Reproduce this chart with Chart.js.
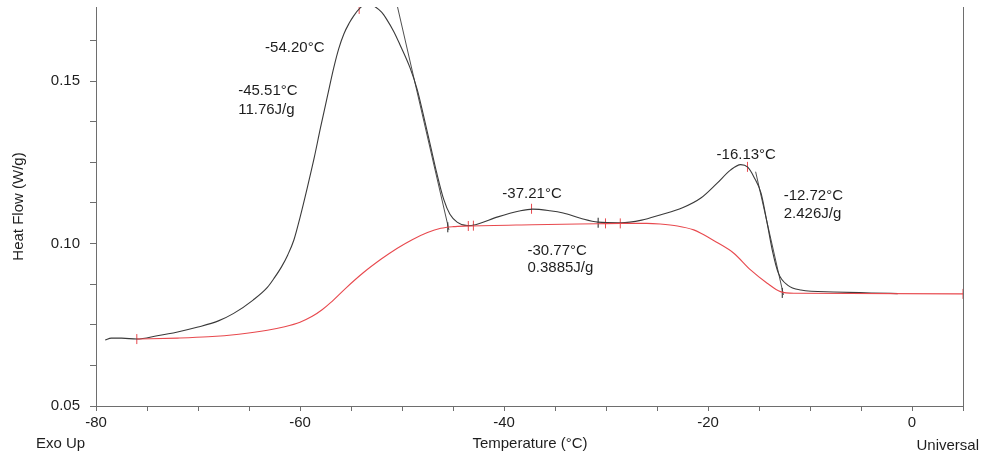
<!DOCTYPE html>
<html>
<head>
<meta charset="utf-8">
<script src="https://cdn.jsdelivr.net/npm/chart.js@4.4.0/dist/chart.umd.min.js"></script>
<style>
  html, body { margin: 0; padding: 0; background: #fff; }
  #wrap { width: 982px; height: 461px; }
</style>
</head>
<body>
<div id="wrap"><canvas id="dsc" width="982" height="461"></canvas></div>
<script>
// sample curve (temperature °C / heat flow W/g)
const sampleT = [-79.1, -78.5, -77.5, -76.0, -74.0, -72.0, -70.0, -68.0, -66.5, -64.6, -63.2, -62.5, -61.8, -61.2, -60.6, -60.0, -59.3, -58.6, -58.0, -57.3, -56.7, -56.2, -55.7, -55.2, -54.75, -54.1, -53.4, -52.8, -52.0, -51.5, -50.8, -50.2, -49.2, -48.5, -47.9, -47.2, -46.6, -45.9, -45.3, -44.6, -43.6, -42.8, -40.6, -38.5, -37.2, -35.5, -34.2, -32.5, -30.8, -28.6, -26.5, -24.7, -22.5, -20.7, -19.1, -17.8, -16.8, -16.1, -15.5, -14.8, -14.2, -13.7, -13.1, -12.2, -10.9, -7.7, -4.0, -1.4];
const sampleHF = [0.0703, 0.0709, 0.0709, 0.0706, 0.0716, 0.0728, 0.0743, 0.0762, 0.0785, 0.0826, 0.0865, 0.0895, 0.0929, 0.0965, 0.1011, 0.1080, 0.1170, 0.1265, 0.1355, 0.1455, 0.1540, 0.1600, 0.1645, 0.1677, 0.1700, 0.1725, 0.1740, 0.1732, 0.1712, 0.1690, 0.1652, 0.1612, 0.1540, 0.1473, 0.1395, 0.1300, 0.1218, 0.1135, 0.1090, 0.1066, 0.1055, 0.1058, 0.1082, 0.1100, 0.1106, 0.1101, 0.1094, 0.1078, 0.1066, 0.1064, 0.1072, 0.1088, 0.1110, 0.1140, 0.1186, 0.1226, 0.1243, 0.1235, 0.1205, 0.1155, 0.1063, 0.0980, 0.0909, 0.0872, 0.0857, 0.0851, 0.0848, 0.0846];

// integration baseline (red)
const baseT = [-76.0, -72.0, -69.0, -66.0, -63.2, -61.5, -60.0, -58.8, -57.8, -57.0, -55.5, -53.8, -52.0, -50.5, -49.0, -47.5, -46.2, -45.0, -43.6, -37.2, -30.8, -28.6, -26.0, -24.7, -23.0, -21.4, -20.7, -19.2, -17.5, -15.8, -14.2, -12.9, -11.5, 5.0];
const baseHF = [0.0706, 0.0709, 0.0713, 0.0721, 0.0733, 0.0744, 0.0758, 0.0776, 0.0797, 0.0818, 0.0863, 0.0910, 0.0953, 0.0985, 0.1012, 0.1034, 0.1047, 0.1052, 0.1054, 0.1058, 0.1061, 0.1062, 0.1062, 0.1060, 0.1054, 0.1042, 0.1032, 0.1005, 0.0971, 0.0918, 0.0878, 0.0852, 0.0847, 0.0845];

// onset tangents
const tangent1T = [-50.6, -45.4];
const tangent1HF = [0.1750, 0.1042];
const tangent2T = [-15.33, -12.6];
const tangent2HF = [0.1221, 0.0842];

// analysis markers
const redMarkT = [-76.0, -54.2, -43.5, -43.0, -37.3, -30.05, -28.6, -16.13, 5.0];
const redMarkHF = [0.0706, 0.1722, 0.1054, 0.1055, 0.1107, 0.1062, 0.1062, 0.1236, 0.0845];
const blackMarkT = [-45.51, -30.77, -12.72];
const blackMarkHF = [0.1050, 0.1064, 0.0848];

// result labels
const labelText = ["-54.20°C", "-45.51°C", "11.76J/g", "-37.21°C", "-30.77°C", "0.3885J/g", "-16.13°C", "-12.72°C", "2.426J/g"];
const labelT = [-63.42, -66.06, -66.06, -40.16, -37.70, -37.70, -19.16, -12.58, -12.58];
const labelHF = [0.1602, 0.1469, 0.1411, 0.1152, 0.0977, 0.0925, 0.1272, 0.1146, 0.1091];

// axes
const xTickValues = [-80, -75, -70, -65, -60, -55, -50, -45, -40, -35, -30, -25, -20, -15, -10, -5, 0, 5];
const yTickValues = [0.05, 0.0625, 0.075, 0.0875, 0.10, 0.1125, 0.125, 0.1375, 0.15, 0.1625];

const FONT = "'Liberation Sans', Arial, sans-serif";
const AXIS = '#6e6e6e';
const INK = '#1e1e1e';

function pts(xs, ys) {
    return xs.map((x, i) => ({ x: x, y: ys[i] }));
}

// right frame, axis titles and the result labels
const decorPlugin = {
    id: 'decor',
    afterDraw(chart) {
        const ctx = chart.ctx;
        const a = chart.chartArea;
        const xs = chart.scales.x, ys = chart.scales.y;
        ctx.save();
        ctx.strokeStyle = AXIS;
        ctx.lineWidth = 1;
        ctx.beginPath();
        ctx.moveTo(Math.round(a.right) + 0.5, a.top);
        ctx.lineTo(Math.round(a.right) + 0.5, a.bottom);
        ctx.stroke();

        ctx.fillStyle = INK;
        ctx.font = '15px ' + FONT;
        ctx.textBaseline = 'middle';
        labelText.forEach((t, i) => {
            ctx.textAlign = 'left';
            ctx.fillText(t, xs.getPixelForValue(labelT[i]), ys.getPixelForValue(labelHF[i]));
        });

        ctx.textAlign = 'left';
        ctx.fillText('Exo Up', 36, 444);
        ctx.textAlign = 'center';
        ctx.fillText('Temperature (°C)', 530, 444);
        ctx.textAlign = 'right';
        ctx.fillText('Universal', 979, 446);

        ctx.translate(19, (a.top + a.bottom) / 2);
        ctx.rotate(-Math.PI / 2);
        ctx.textAlign = 'center';
        ctx.fillText('Heat Flow (W/g)', 0, 0);
        ctx.restore();
    }
};

const lineBase = { showLine: true, pointRadius: 0, fill: false, borderWidth: 1.1 };

new Chart(document.getElementById('dsc'), {
    type: 'scatter',
    data: {
        datasets: [
            Object.assign({ label: 'baseline', data: pts(baseT, baseHF), borderColor: '#e8494e', cubicInterpolationMode: 'monotone' }, lineBase),
            Object.assign({ label: 'sample', data: pts(sampleT, sampleHF), borderColor: '#3a3a3a', cubicInterpolationMode: 'monotone' }, lineBase),
            Object.assign({ label: 'tangent1', data: pts(tangent1T, tangent1HF), borderColor: '#3a3a3a', tension: 0 }, lineBase, { borderWidth: 0.9 }),
            Object.assign({ label: 'tangent2', data: pts(tangent2T, tangent2HF), borderColor: '#3a3a3a', tension: 0 }, lineBase, { borderWidth: 0.9 }),
            { label: 'redMarks', data: pts(redMarkT, redMarkHF), showLine: false, pointStyle: 'line', rotation: 90, pointRadius: 5, borderColor: '#e8494e', borderWidth: 1 },
            { label: 'blackMarks', data: pts(blackMarkT, blackMarkHF), showLine: false, pointStyle: 'line', rotation: 90, pointRadius: 5, borderColor: '#222', borderWidth: 1 }
        ]
    },
    options: {
        responsive: false,
        animation: false,
        events: [],
        layout: { padding: { top: 7, right: 19, left: 0, bottom: 0 } },
        plugins: { legend: { display: false }, tooltip: { enabled: false } },
        scales: {
            x: {
                type: 'linear',
                min: -80,
                max: 5,
                afterBuildTicks: s => { s.ticks = xTickValues.map(v => ({ value: v })); },
                afterFit: s => { s.height = 55; s.paddingLeft = 0; s.paddingRight = 0; },
                grid: { display: true, drawOnChartArea: false, tickLength: 5, tickColor: AXIS },
                border: { color: AXIS, width: 1 },
                ticks: {
                    autoSkip: false,
                    maxRotation: 0,
                    padding: 3,
                    color: INK,
                    font: { family: FONT, size: 15 },
                    callback: v => (v % 20 === 0 ? String(v) : '')
                }
            },
            y: {
                type: 'linear',
                min: 0.05,
                max: 0.1728,
                afterBuildTicks: s => { s.ticks = yTickValues.map(v => ({ value: v })); },
                afterFit: s => { s.width = 96; s.paddingTop = 0; s.paddingBottom = 0; },
                grid: { display: true, drawOnChartArea: false, tickLength: 6, tickColor: AXIS },
                border: { color: AXIS, width: 1 },
                ticks: {
                    autoSkip: false,
                    padding: 10,
                    color: INK,
                    font: { family: FONT, size: 15 },
                    callback: v => (Math.abs(v / 0.05 - Math.round(v / 0.05)) < 1e-6 ? v.toFixed(2) : '')
                }
            }
        }
    },
    plugins: [decorPlugin]
});
</script>
</body>
</html>
